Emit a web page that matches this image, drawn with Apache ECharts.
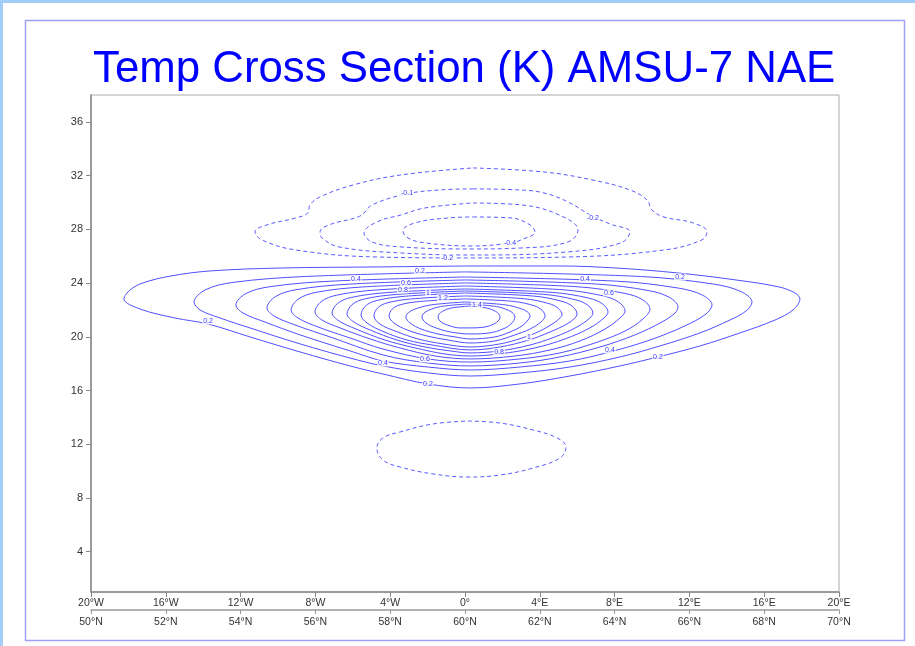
<!DOCTYPE html>
<html>
<head>
<meta charset="utf-8">
<title>Temp Cross Section (K) AMSU-7 NAE</title>
<script src="https://cdn.jsdelivr.net/npm/echarts@6/dist/echarts.min.js"></script>
<style>
  html, body { margin: 0; padding: 0; background: #fff; }
  #main { width: 915px; height: 646px; }
</style>
</head>
<body>
<div id="main"></div>
<script>
// contour lines: [longitude (W negative), level]
// positive contours, 0.2 .. 1.5 every 0.1 (each loop starts at its top)
const pos02 = [[0,25.27],[5.08,25.27],[8.07,25.12],[11.39,24.75],[14.49,24.23],[16.79,23.71],[17.65,23.26],[17.91,22.82],[17.54,22.00],[16.58,21.25],[14.71,20.29],[12.57,19.32],[10.32,18.50],[8.29,17.83],[5.61,17.08],[2.94,16.49],[0.27,16.19],[-1.98,16.49],[-4.39,17.23],[-6.15,17.83],[-8.82,18.87],[-11.50,19.99],[-13.74,20.95],[-15.51,21.40],[-17.38,22.07],[-18.24,22.82],[-17.91,23.49],[-17.22,24.01],[-15.72,24.53],[-13.64,24.90],[-9.84,25.12],[-4.71,25.20],[0,25.27]];
const pos03 = [[0,24.83],[9.38,24.49],[13.26,23.93],[14.75,23.37],[15.35,22.59],[15.03,21.92],[14.17,21.25],[12.57,20.29],[10.43,19.32],[8.29,18.50],[5.61,17.75],[2.94,17.31],[0.27,17.08],[-1.98,17.31],[-4.39,17.83],[-6.15,18.42],[-8.82,19.47],[-11.50,20.66],[-13.10,21.40],[-14.17,22.00],[-14.49,22.59],[-13.89,23.49],[-12.40,24.05],[-8.52,24.49],[0,24.83]];
const pos04 = [[0,24.45],[8.12,24.14],[11.43,23.62],[12.70,23.10],[13.21,22.37],[12.89,21.70],[11.76,20.81],[9.89,19.76],[7.75,18.87],[5.61,18.20],[2.94,17.75],[0.27,17.53],[-1.98,17.75],[-4.39,18.20],[-6.15,18.95],[-8.82,20.14],[-10.70,21.10],[-11.87,21.77],[-12.25,22.37],[-11.74,23.20],[-10.47,23.72],[-7.16,24.14],[0,24.45]];
const pos05 = [[0,24.23],[6.99,23.93],[9.85,23.43],[10.95,22.92],[11.39,22.22],[11.23,21.77],[10.53,21.10],[9.09,20.14],[7.22,19.24],[5.08,18.50],[2.94,18.05],[0.27,17.83],[-1.98,18.05],[-4.39,18.65],[-7.22,19.99],[-9.09,20.88],[-10.21,21.55],[-10.59,22.15],[-10.15,22.98],[-9.05,23.50],[-6.19,23.92],[0,24.23]];
const pos06 = [[0,24.01],[6.05,23.72],[8.55,23.23],[9.51,22.75],[9.89,22.07],[9.52,21.33],[8.56,20.43],[6.95,19.54],[5.08,18.80],[2.94,18.35],[0.27,18.12],[-1.98,18.35],[-4.39,19.09],[-6.15,19.91],[-7.86,20.73],[-8.93,21.40],[-9.30,22.00],[-8.92,22.80],[-7.96,23.31],[-5.46,23.71],[0,24.01]];
const pos07 = [[0,23.78],[5.24,23.50],[7.40,23.04],[8.23,22.57],[8.56,21.92],[8.29,21.40],[7.49,20.58],[6.15,19.69],[4.55,19.02],[2.67,18.57],[0.27,18.35],[-1.60,18.57],[-3.48,19.17],[-5.08,19.84],[-6.68,20.66],[-7.65,21.25],[-8.02,21.85],[-7.69,22.62],[-6.86,23.10],[-4.70,23.49],[0,23.78]];
const pos08 = [[0,23.56],[4.70,23.30],[6.62,22.88],[7.35,22.45],[7.65,21.85],[7.43,21.40],[6.68,20.66],[5.35,19.84],[3.74,19.17],[1.82,18.72],[0.27,18.57],[-1.07,18.72],[-2.67,19.17],[-4.28,19.76],[-5.83,20.58],[-6.74,21.18],[-7.11,21.77],[-6.81,22.49],[-6.08,22.93],[-4.16,23.29],[0,23.56]];
const pos09 = [[0,23.41],[4.21,23.16],[5.92,22.75],[6.58,22.34],[6.84,21.77],[6.68,21.40],[5.99,20.73],[4.81,19.99],[3.48,19.39],[1.87,18.95],[0.27,18.80],[-0.80,18.95],[-2.14,19.24],[-3.64,19.76],[-5.08,20.51],[-5.94,21.10],[-6.31,21.70],[-6.05,22.38],[-5.39,22.81],[-3.68,23.15],[0,23.41]];
const pos10 = [[0,23.26],[3.68,23.03],[5.18,22.64],[5.76,22.25],[5.99,21.70],[5.88,21.40],[5.45,20.95],[4.55,20.36],[3.42,19.76],[1.87,19.24],[0.27,19.02],[-1.76,19.39],[-3.10,19.76],[-4.44,20.43],[-5.24,21.03],[-5.56,21.62],[-5.33,22.28],[-4.75,22.69],[-3.25,23.01],[0,23.26]];
const pos11 = [[0,23.04],[3.18,22.83],[4.49,22.47],[4.99,22.12],[5.19,21.62],[5.08,21.40],[4.76,21.03],[4.01,20.43],[3.05,19.91],[1.87,19.47],[0.27,19.24],[-1.18,19.47],[-2.51,19.84],[-3.74,20.43],[-4.55,20.95],[-4.87,21.55],[-4.67,22.15],[-4.17,22.52],[-2.86,22.82],[0,23.04]];
const pos12 = [[0,22.82],[2.61,22.63],[3.70,22.31],[4.11,21.99],[4.28,21.55],[4.06,21.10],[3.48,20.58],[2.67,20.14],[1.60,19.69],[0.27,19.54],[-0.91,19.76],[-2.03,20.06],[-3.10,20.51],[-3.80,21.03],[-4.06,21.55],[-3.89,22.06],[-3.48,22.38],[-2.39,22.63],[0,22.82]];
const pos13 = [[0,22.59],[2.15,22.38],[3.02,22.08],[3.35,21.84],[3.48,21.55],[3.37,21.25],[3.05,20.81],[2.41,20.36],[1.60,19.99],[0.27,19.84],[-0.53,19.99],[-1.44,20.21],[-2.35,20.58],[-2.94,21.03],[-3.16,21.48],[-3.03,21.79],[-2.70,22.05],[-1.83,22.37],[0,22.59]];
const pos14 = [[0.1,22.44],[1.68,22.25],[2.32,21.97],[2.57,21.75],[2.67,21.48],[2.46,20.95],[2.03,20.58],[1.34,20.29],[0.27,20.21],[-0.80,20.36],[-1.55,20.66],[-2.09,21.03],[-2.30,21.48],[-2.20,21.75],[-1.95,21.97],[-1.31,22.25],[0.1,22.44]];
const pos15 = [[0.2,22.29],[1.21,22.13],[1.64,21.89],[1.80,21.71],[1.87,21.48],[1.82,21.25],[1.55,20.95],[1.07,20.73],[0.27,20.66],[-0.27,20.66],[-0.80,20.81],[-1.28,21.10],[-1.44,21.48],[-1.37,21.71],[-1.21,21.89],[-0.78,22.13],[0.2,22.29]];

// negative contours (dashed)
const neg01 = [[0.43,32.57],[4.22,32.27],[6.79,31.68],[8.82,30.93],[9.73,30.19],[10.00,29.44],[10.64,28.92],[12.19,28.48],[12.94,27.81],[12.67,27.21],[10.64,26.46],[5.51,25.94],[0.43,25.87],[-4.71,25.94],[-9.04,26.46],[-10.86,27.21],[-11.23,27.81],[-10.59,28.33],[-9.04,28.85],[-8.40,29.22],[-8.29,29.82],[-7.75,30.41],[-5.99,31.30],[-3.42,32.05],[0.43,32.57]];
const neg02 = [[0.43,31.01],[2.94,30.93],[4.22,30.71],[5.51,30.04],[6.79,29.00],[7.75,28.40],[8.82,27.81],[8.34,26.99],[5.51,26.32],[0.43,26.09],[-3.42,26.24],[-6.74,26.69],[-7.65,27.36],[-7.75,27.81],[-7.27,28.33],[-5.72,28.92],[-5.35,29.29],[-4.97,29.82],[-3.16,30.63],[-1.34,30.93],[0.43,31.01]];
const neg03 = [[0.43,29.96],[2.99,29.82],[5.03,29.07],[6.04,27.95],[5.51,27.06],[2.99,26.61],[0.43,26.54],[-3.42,26.69],[-4.97,27.06],[-5.40,27.73],[-4.71,28.55],[-3.42,29.07],[-2.14,29.59],[0.43,29.96]];
const neg04 = [[0.43,28.92],[2.46,28.85],[3.48,28.33],[3.74,27.81],[2.99,27.21],[2.46,26.99],[0.43,26.76],[-2.14,26.99],[-3.05,27.36],[-3.32,27.88],[-2.67,28.48],[-0.86,28.85],[0.43,28.92]];
const negLow = [[0.16,13.73],[1.87,13.58],[3.64,13.06],[4.92,12.47],[5.40,11.80],[5.08,10.98],[3.64,10.23],[1.87,9.71],[0.16,9.56],[-1.71,9.79],[-3.48,10.31],[-4.39,10.83],[-4.71,11.72],[-4.39,12.47],[-3.48,12.91],[-1.71,13.51],[0.16,13.73]];

// contour labels: [text, lon, level]
const contourLabels = [
  ['0.2', -2.41, 24.90], ['0.4', -5.83, 24.31], ['0.6', -3.16, 24.01], ['0.8', -3.32, 23.49],
  ['1', -1.98, 23.26], ['1.2', -1.18, 22.89], ['1.4', 0.64, 22.37], ['0.4', 6.42, 24.31],
  ['0.2', 11.50, 24.45], ['0.6', 7.70, 23.26], ['0.2', -13.74, 21.18], ['0.4', -4.39, 18.05],
  ['0.6', -2.14, 18.35], ['0.8', 1.82, 18.87], ['1', 3.42, 19.99], ['0.4', 7.75, 19.02],
  ['0.2', 10.32, 18.50], ['0.2', -1.98, 16.49],
  ['-0.1', -3.10, 30.71], ['-0.2', 6.84, 28.85], ['-0.4', 2.41, 26.99], ['-0.2', -0.96, 25.87]
];

const yTicks = [4, 8, 12, 16, 20, 24, 28, 32, 36];

const solidLines = [pos02, pos03, pos04, pos05, pos06, pos07, pos08, pos09, pos10, pos11, pos12, pos13, pos14, pos15];
const dashedLines = [neg01, neg02, neg03, neg04, negLow];

let chartDom = document.getElementById('main');
let myChart = echarts.init(chartDom);
const FONT = '"Liberation Sans", Arial, sans-serif';

function lonLabel(v) {
  if (v < 0) return (-v) + '°W';
  if (v > 0) return v + '°E';
  return '0°';
}

let series = [];
solidLines.forEach(function (pts) {
  series.push({
    type: 'line', data: pts, showSymbol: false, smooth: 0.35,
    lineStyle: { color: '#5050ff', width: 1 }, silent: true
  });
});
dashedLines.forEach(function (pts) {
  series.push({
    type: 'line', data: pts, showSymbol: false, smooth: 0.4,
    lineStyle: { color: '#5a5aff', width: 1, type: [4, 3] }, silent: true
  });
});
// small contour value labels
series.push({
  type: 'scatter', z: 5, symbolSize: 1, silent: true,
  itemStyle: { color: 'rgba(0,0,0,0)' },
  data: contourLabels.map(function (d) { return { name: d[0], value: [d[1], d[2]] }; }),
  label: {
    show: true, position: 'inside', formatter: '{b}',
    fontSize: 7, color: '#0000ff', fontFamily: FONT,
    backgroundColor: '#fff', padding: [0, 1]
  }
});

let option = {
  animation: false,
  backgroundColor: '#fff',
  title: {
    text: 'Temp Cross Section (K) AMSU-7 NAE',
    left: 88, top: 43,
    textStyle: { color: '#0000ff', fontSize: 43.8, fontWeight: 'normal', fontFamily: FONT }
  },
  graphic: [
    { type: 'rect', shape: { x: 0, y: 0, width: 915, height: 3 }, style: { fill: '#a3cdf7' } },
    { type: 'rect', shape: { x: 0, y: 0, width: 3, height: 646 }, style: { fill: '#a3cdf7' } },
    { type: 'rect', shape: { x: 25.5, y: 20.5, width: 879, height: 620 },
      style: { fill: null, stroke: '#a0a0fb', lineWidth: 1.5 } }
  ],
  grid: {
    left: 91, right: 76, top: 95, bottom: 54,
    show: true, borderColor: '#aaa', borderWidth: 1
  },
  xAxis: [
    {
      type: 'value', min: -20, max: 20, interval: 4, position: 'bottom',
      axisLine: { onZero: false, lineStyle: { color: '#888', width: 1.5 } },
      axisTick: { length: 5, lineStyle: { color: '#888' } },
      axisLabel: { formatter: lonLabel, fontSize: 10.5, color: '#333', margin: 6, fontFamily: FONT },
      splitLine: { show: false }
    },
    {
      type: 'value', min: 50, max: 70, interval: 2, position: 'bottom', offset: 18,
      axisLine: { onZero: false, lineStyle: { color: '#999', width: 1.5 } },
      axisTick: { length: 4, lineStyle: { color: '#999' } },
      axisLabel: { formatter: function (v) { return v + '°N'; }, fontSize: 10.5, color: '#333', margin: 7, fontFamily: FONT },
      splitLine: { show: false }
    }
  ],
  yAxis: {
    type: 'value', min: 1, max: 38, position: 'left',
    axisLine: { show: true, onZero: false, lineStyle: { color: '#888', width: 1.5 } },
    axisTick: { show: true, length: 5, customValues: yTicks, lineStyle: { color: '#888' } },
    axisLabel: { customValues: yTicks, fontSize: 11, color: '#333', margin: 8, fontFamily: FONT },
    splitLine: { show: false }
  },
  series: series
};

myChart.setOption(option, true);
window.addEventListener('resize', () => {
  myChart.resize();
});
</script>
</body>
</html>
